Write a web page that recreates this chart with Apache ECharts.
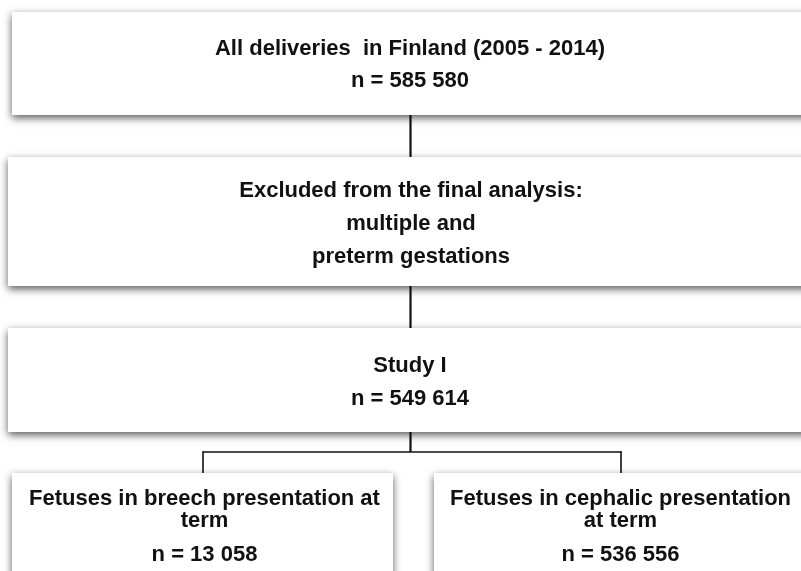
<!DOCTYPE html>
<html>
<head>
<meta charset="utf-8">
<script src="https://cdn.jsdelivr.net/npm/echarts@6/dist/echarts.min.js"></script>
<style>
    html, body { margin: 0; padding: 0; background: #fff; }
    #chart { width: 801px; height: 571px; }
</style>
</head>
<body>
<div id="chart"></div>
<script>
// 数据
const totalDeliveries = 585580
const studyCount = 549614
const breechCount = 13058
const cephalicCount = 536556

const topTitle = 'All deliveries  in Finland (2005 - 2014)'
const excludedLines = ['Excluded from the final analysis:', 'multiple and', 'preterm gestations']
const studyTitle = 'Study I'
const groupTitles = [
    ['Fetuses in breech presentation at', 'term'],
    ['Fetuses in cephalic presentation', 'at term'],
]
const groupCounts = [breechCount, cephalicCount]

// 585580 -> '585 580'
function fmt(n) {
    return String(n).replace(/\B(?=(\d{3})+(?!\d))/g, ' ')
}

;(function () {
    const chart = echarts.init(document.getElementById('chart'))
    const font = 'bold 22px "Liberation Sans", Arial, sans-serif'
    const lineColor = '#111'

    function box(x, y, w, h) {
        return {
            type: 'rect',
            shape: { x: x, y: y, width: w, height: h },
            style: {
                fill: '#fff',
                shadowBlur: 8,
                shadowOffsetX: 0,
                shadowOffsetY: 3,
                shadowColor: 'rgba(0,0,0,0.65)',
            },
            z: 1,
        }
    }

    function text(str, x, y) {
        return {
            type: 'text',
            x: x,
            y: y,
            style: {
                text: str,
                font: font,
                fill: '#111',
                align: 'center',
                verticalAlign: 'middle',
            },
            z: 3,
        }
    }

    function line(x1, y1, x2, y2, w) {
        return {
            type: 'line',
            shape: { x1: x1, y1: y1, x2: x2, y2: y2 },
            style: { stroke: lineColor, lineWidth: w || 2.2 },
            z: 2,
        }
    }

    const els = []

    // 方框
    els.push(box(12, 12, 820, 103))
    els.push(box(8, 157, 820, 129))
    els.push(box(8, 328, 820, 104))
    els.push(box(12, 473, 381, 130))
    els.push(box(434, 473, 400, 130))

    // 连接线
    els.push(line(410.5, 115, 410.5, 157))
    els.push(line(410.5, 286, 410.5, 328))
    els.push(line(410.5, 432, 410.5, 452))
    els.push(line(203, 452, 621.5, 452, 1.6))
    els.push(line(203, 451.3, 203, 473, 1.6))
    els.push(line(621, 451.3, 621, 473, 1.6))

    // 文字 (y 往下挪一点)
    const dy = 1.5
    els.push(text(topTitle, 410, 47 + dy))
    els.push(text('n = ' + fmt(totalDeliveries), 410, 79 + dy))
    excludedLines.forEach(function (s, i) {
        els.push(text(s, 411, 189 + i * 33 + dy))
    })
    els.push(text(studyTitle, 410, 364 + dy))
    els.push(text('n = ' + fmt(studyCount), 410, 397 + dy))

    const groupX = [204.5, 620.5]
    groupTitles.forEach(function (lines, g) {
        lines.forEach(function (s, i) {
            els.push(text(s, groupX[g], 497 + i * 22 + dy))
        })
        els.push(text('n = ' + fmt(groupCounts[g]), groupX[g], 553 + dy))
    })

    chart.setOption({
        backgroundColor: '#fff',
        animation: false,
        graphic: { elements: els },
    })
})()
</script>
</body>
</html>
